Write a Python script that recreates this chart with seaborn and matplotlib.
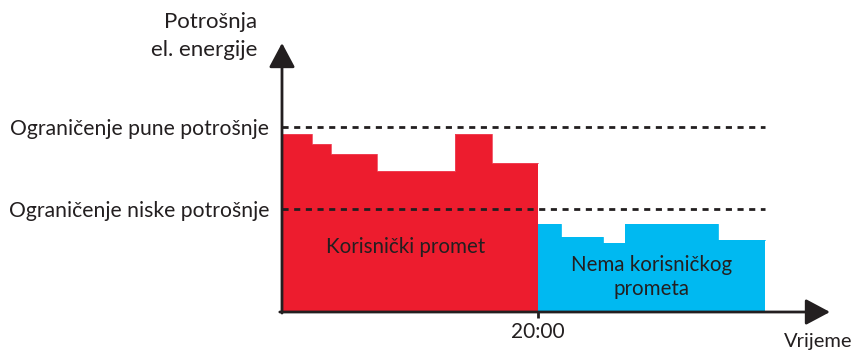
import matplotlib
matplotlib.use("Agg")
import matplotlib.pyplot as plt
import seaborn as sns
import numpy as np

# ---- data (time in arbitrary units from axis origin, consumption in % of full limit)
user_edges = [0, 29.7, 48.7, 94.7, 173.3, 210.3, 256.3]
user_values = [96.2, 91.1, 85.7, 76.3, 96.2, 80.8]
idle_edges = [256.3, 278.7, 321.3, 343.3, 435.7, 483.3]
idle_values = [47.6, 40.4, 37.5, 47.6, 39.0]
limit_levels = [100.0, 55.6]
limit_labels = ["Ograničenje pune potrošnje", "Ograničenje niske potrošnje"]
x_tick_pos = [256.3]
x_tick_labels = ["20:00"]

RED = "#ED1C2E"
BLUE = "#00B9F1"
INK = "#231F20"

sns.set_style("white")
plt.rcParams["font.family"] = ["Lato", "DejaVu Sans"]

W, H = 854, 356
fig = plt.figure(figsize=(W / 100, H / 100), dpi=100)
ax_l, ax_b, ax_r, ax_t = 282, 312, 830, 43
ax = fig.add_axes([ax_l / W, (H - ax_b) / H, (ax_r - ax_l) / W, (ax_b - ax_t) / H])
ax.set_xlim(0, ax_r - ax_l)
ax.set_ylim(0, (ax_b - ax_t) / 184.7 * 100)
for s in ax.spines.values():
    s.set_visible(False)

# filled step areas
ax.fill_between(user_edges, user_values + [user_values[-1]], step="post", color=RED, lw=0, zorder=1)
ax.fill_between(idle_edges, idle_values + [idle_values[-1]], step="post", color=BLUE, lw=0, zorder=1)
sns.lineplot(x=user_edges, y=user_values + [user_values[-1]], drawstyle="steps-post",
             color="#F0465A", lw=0.6, ax=ax, zorder=2)
sns.lineplot(x=idle_edges, y=idle_values + [idle_values[-1]], drawstyle="steps-post",
             color=BLUE, lw=0.6, ax=ax, zorder=2)

# limit lines
for lv in limit_levels:
    ax.plot([0, idle_edges[-1]], [lv, lv], color=INK, lw=2, ls=(0, (2.2, 2.0)), zorder=3,
            clip_on=False)

# axes arrows
arrow = dict(arrowstyle="-|>,head_length=1.5,head_width=0.8", color=INK, lw=2,
             shrinkA=0, shrinkB=0)
ax.annotate("", xy=(0, 1), xytext=(0, -0.004), xycoords="axes fraction", arrowprops=arrow,
            annotation_clip=False)
ax.annotate("", xy=(1, 0), xytext=(-0.004, 0), xycoords="axes fraction", arrowprops=arrow,
            annotation_clip=False)

# ticks
ax.set_xticks(x_tick_pos, x_tick_labels)
ax.set_yticks(limit_levels, limit_labels)
ax.tick_params(axis="x", length=4.5, width=2, color=INK, direction="out", pad=3,
               labelsize=15, labelcolor=INK, bottom=True)
ax.tick_params(axis="y", length=0, pad=9, labelsize=15.2, labelcolor=INK)

# texts
fig.text(257 / W, 1 - 21.7 / H, "Potrošnja", ha="right", va="center", fontsize=16, color=INK)
fig.text(257 / W, 1 - 50 / H, "el. energije", ha="right", va="center", fontsize=16, color=INK)
fig.text(852 / W, 1 - 342 / H, "Vrijeme", ha="right", va="center", fontsize=14.5, color=INK)
ax.text(405.8 - ax_l, (ax_b - 246.7) / 184.7 * 100, "Korisnički promet", ha="center",
        va="center", fontsize=14.8, color=INK, zorder=4)
ax.text(651.7 - ax_l, (ax_b - 277) / 184.7 * 100, "Nema korisničkog\nprometa", ha="center",
        va="center", fontsize=14.8, color=INK, linespacing=1.3, zorder=4)

fig.savefig("out.png", dpi=100)
